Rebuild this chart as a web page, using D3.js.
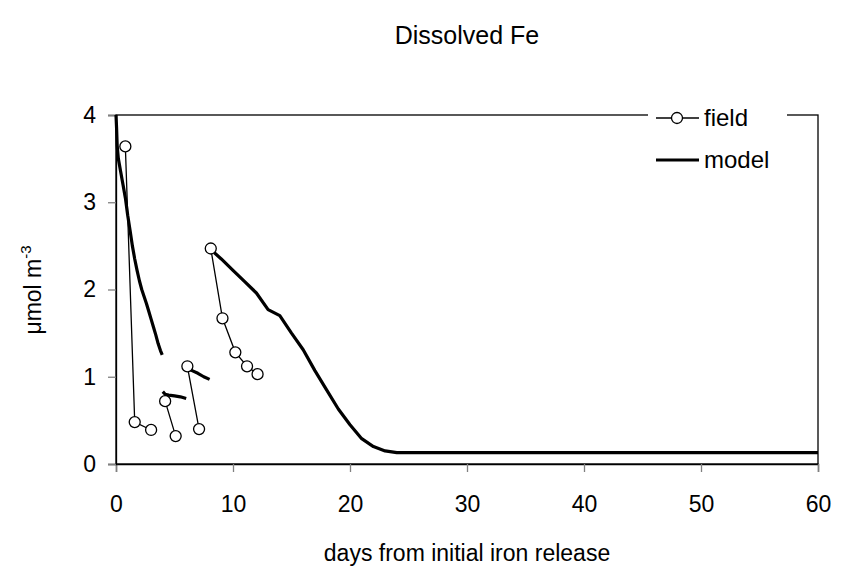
<!DOCTYPE html>
<html><head><meta charset="utf-8">
<script src="https://cdn.jsdelivr.net/npm/d3@7"></script>
<style>body{margin:0;background:#fff}svg{display:block;font-family:"Liberation Sans",Arial,sans-serif}</style>
</head><body><svg id="c" width="849" height="584"></svg>
<script>
// field observations (null = break in line)
const fieldDays = [0.8, 1.6, 3.0, null, 4.2, 5.1, null, 6.1, 7.1, null, 8.1, 9.1, 10.2, 11.2, 12.1];
const fieldVals = [3.64, 0.48, 0.39, null, 0.72, 0.32, null, 1.12, 0.40, null, 2.47, 1.67, 1.28, 1.12, 1.03];
// model output segments
const modelDays1 = [0, 0.05, 0.1, 0.2, 0.4, 0.6, 0.8, 1.0, 1.2, 1.4, 1.6, 1.8, 2.0, 2.2, 2.4, 2.6, 2.8, 3.0, 3.2, 3.4, 3.6, 3.8, 3.95];
const modelVals1 = [4.0, 3.85, 3.65, 3.5, 3.35, 3.2, 3.05, 2.85, 2.68, 2.5, 2.35, 2.22, 2.1, 2.0, 1.92, 1.84, 1.75, 1.66, 1.57, 1.48, 1.38, 1.3, 1.25];
const modelDays2 = [4.0, 4.2, 4.5, 5.0, 5.5, 6.0];
const modelVals2 = [0.83, 0.80, 0.79, 0.78, 0.77, 0.75];
const modelDays3 = [6.0, 6.5, 7.0, 7.5, 8.0];
const modelVals3 = [1.10, 1.07, 1.04, 1.00, 0.97];
const modelDays4 = [8, 9, 10, 11, 12, 13, 14, 15, 16, 17, 18, 19, 20, 21, 22, 23, 24, 30, 40, 50, 60];
const modelVals4 = [2.47, 2.35, 2.22, 2.09, 1.96, 1.77, 1.70, 1.50, 1.31, 1.07, 0.85, 0.63, 0.45, 0.29, 0.20, 0.15, 0.13, 0.13, 0.13, 0.13, 0.13];
const xTicks = [0, 10, 20, 30, 40, 50, 60];
const yTicks = [0, 1, 2, 3, 4];

const FONT = "Liberation Sans, Arial, sans-serif";
const svg = d3.select("#c");
const L = 116, R = 818, T = 115, B = 464;
const x = d3.scaleLinear().domain([0, 60]).range([L, R]);
const y = d3.scaleLinear().domain([0, 4]).range([B, T]);

// frame
svg.append("rect").attr("x", L).attr("y", T).attr("width", R - L).attr("height", B - T)
  .attr("fill", "none").attr("stroke", "#000").attr("stroke-width", 1.3);

const xa = svg.append("g").attr("transform", `translate(0,${B})`)
  .call(d3.axisBottom(x).tickValues(xTicks).tickSize(8).tickPadding(24).tickFormat(d3.format("d")));
const ya = svg.append("g").attr("transform", `translate(${L},0)`)
  .call(d3.axisLeft(y).tickValues(yTicks).tickSize(8).tickPadding(12).tickFormat(d3.format("d")));
[xa, ya].forEach(a => {
  a.select(".domain").attr("stroke", "#000").attr("stroke-width", 1.3);
  a.selectAll(".tick line").attr("stroke", "#808080").attr("stroke-width", 1.3);
  a.selectAll("text").attr("font-size", 23).attr("fill", "#000").attr("font-family", FONT);
});

const line = d3.line().defined(d => d[1] != null).x(d => x(d[0])).y(d => y(d[1]));
const segs = [[modelDays1, modelVals1], [modelDays2, modelVals2], [modelDays3, modelVals3], [modelDays4, modelVals4]];
segs.forEach(([ds, vs]) => {
  svg.append("path").datum(ds.map((d, i) => [d, vs[i]])).attr("d", line)
    .attr("fill", "none").attr("stroke", "#000").attr("stroke-width", 3.2).attr("stroke-linejoin", "round");
});
const fieldPts = fieldDays.map((d, i) => [d, fieldVals[i]]);
svg.append("path").datum(fieldPts).attr("d", line).attr("fill", "none").attr("stroke", "#000").attr("stroke-width", 1.3);
svg.selectAll("circle.f").data(fieldPts.filter(p => p[1] != null)).join("circle")
  .attr("cx", d => x(d[0])).attr("cy", d => y(d[1])).attr("r", 5.5)
  .attr("fill", "#fff").attr("stroke", "#000").attr("stroke-width", 1.3);

// legend
const lg = svg.append("g").attr("font-family", FONT);
lg.append("rect").attr("x", 648).attr("y", 104).attr("width", 139).attr("height", 74).attr("fill", "#fff");
lg.append("line").attr("x1", 656).attr("x2", 699).attr("y1", 118).attr("y2", 118).attr("stroke", "#000").attr("stroke-width", 1.3);
lg.append("circle").attr("cx", 677).attr("cy", 118).attr("r", 5.5).attr("fill", "#fff").attr("stroke", "#000").attr("stroke-width", 1.3);
lg.append("text").attr("x", 704).attr("y", 126).attr("font-size", 24).text("field");
lg.append("line").attr("x1", 656).attr("x2", 699).attr("y1", 160).attr("y2", 160).attr("stroke", "#000").attr("stroke-width", 3.2);
lg.append("text").attr("x", 704).attr("y", 168).attr("font-size", 24).text("model");

// titles
svg.append("text").attr("x", 467).attr("y", 44).attr("text-anchor", "middle").attr("font-size", 25).attr("font-family", FONT).text("Dissolved Fe");
svg.append("text").attr("x", 467).attr("y", 561).attr("text-anchor", "middle").attr("font-size", 23).attr("font-family", FONT).text("days from initial iron release");
const yl = svg.append("text").attr("transform", "translate(41,290) rotate(-90)").attr("text-anchor", "middle").attr("font-size", 23).attr("font-family", FONT);
yl.append("tspan").text("μmol m");
yl.append("tspan").attr("font-size", 15).attr("dy", -10).text("-3");
</script></body></html>
